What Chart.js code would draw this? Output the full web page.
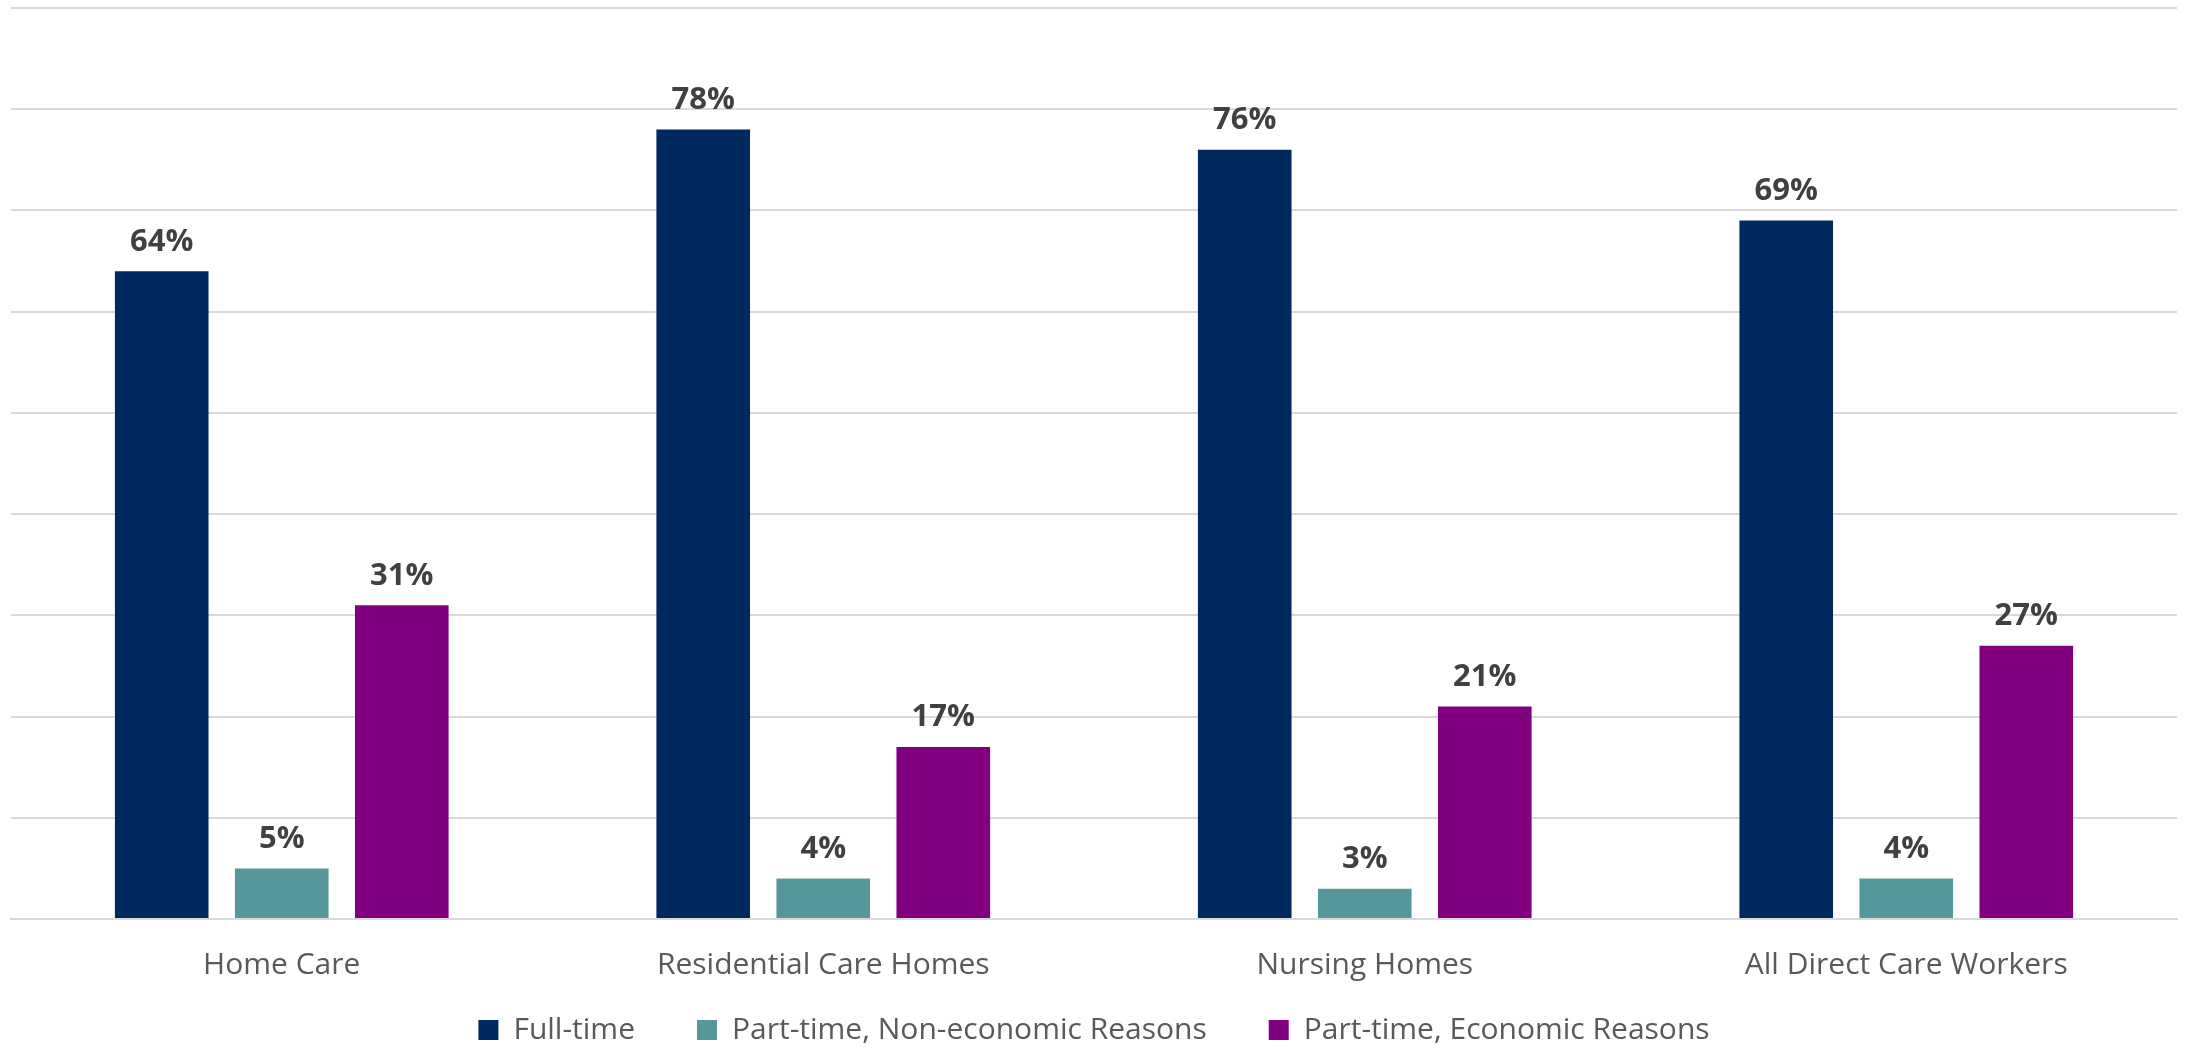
<!DOCTYPE html>
<html>
<head>
<meta charset="utf-8">
<script src="https://cdn.jsdelivr.net/npm/chart.js@4"></script>
<style>
  html, body { margin: 0; padding: 0; background: #fff; }
  #wrap { width: 2193px; height: 1049px; }
</style>
</head>
<body>
<div id="wrap"><canvas id="myChart"></canvas></div>
<script>
const categories = ['Home Care', 'Residential Care Homes', 'Nursing Homes', 'All Direct Care Workers'];
const fullTime = [64, 78, 76, 69];
const partNonEconomic = [5, 4, 3, 4];
const partEconomic = [31, 17, 21, 27];

const seriesNames = ['Full-time', 'Part-time, Non-economic Reasons', 'Part-time, Economic Reasons'];
const seriesColors = ['#002A5E', '#55979A', '#800080'];

// value labels on top of every bar
const barLabels = {
    id: 'barLabels',
    afterDatasetsDraw(chart) {
        const ctx = chart.ctx;
        ctx.save();
        ctx.font = 'bold 31px "Open Sans"';
        ctx.fillStyle = '#404040';
        ctx.textAlign = 'center';
        ctx.textBaseline = 'bottom';
        chart.data.datasets.forEach((ds, i) => {
            chart.getDatasetMeta(i).data.forEach((bar, j) => {
                ctx.fillText(ds.data[j] + '%', bar.x, bar.y - 14);
            });
        });
        ctx.restore();
    }
};

// wide gaps between legend items, but keep the legend box short
const legendFit = {
    id: 'legendFit',
    beforeInit(chart) {
        const fit = chart.legend.fit;
        chart.legend.fit = function () {
            fit.call(this);
            this.height = 66;
        };
    },
    afterLayout(chart) {
        const lg = chart.legend;
        lg.top -= 30;
        lg.bottom = chart.height;
        lg.height = lg.bottom - lg.top;
    }
};

const data = {
    labels: categories,
    datasets: [fullTime, partNonEconomic, partEconomic].map((vals, i) => ({
        label: seriesNames[i],
        data: vals,
        backgroundColor: seriesColors[i],
        categoryPercentage: 0.665,
        barPercentage: 0.78
    }))
};

new Chart(document.getElementById('myChart'), {
    type: 'bar',
    data: data,
    plugins: [barLabels, legendFit],
    options: {
        responsive: true,
        maintainAspectRatio: false,
        animation: false,
        layout: { padding: { left: 11, right: 16, top: 8, bottom: 0 } },
        plugins: {
            tooltip: { enabled: false },
            legend: {
                position: 'bottom',
                labels: {
                    color: '#595959',
                    font: { family: 'Open Sans', size: 30 },
                    boxWidth: 20,
                    boxHeight: 20,
                    padding: 62
                }
            }
        },
        scales: {
            x: {
                grid: { display: false, tickLength: 28 },
                border: { color: '#D9D9D9', width: 2 },
                ticks: {
                    color: '#595959',
                    font: { family: 'Open Sans', size: 30 },
                    padding: 0
                }
            },
            y: {
                min: 0,
                max: 90,
                ticks: { display: false, stepSize: 10 },
                border: { display: false },
                grid: { color: '#D9D9D9', lineWidth: 2, drawTicks: false }
            }
        }
    }
});
</script>
</body>
</html>
